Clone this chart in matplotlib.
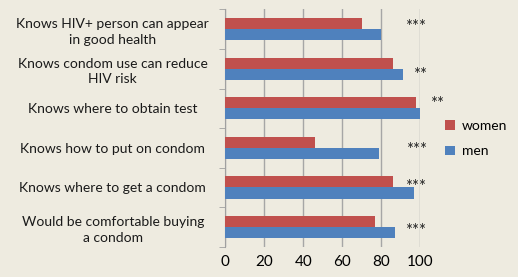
import matplotlib
matplotlib.use("Agg")
import matplotlib.pyplot as plt
import numpy as np

categories = ["Knows HIV+ person can appear\nin good health",
              "Knows condom use can reduce\nHIV risk",
              "Knows where to obtain test",
              "Knows how to put on condom",
              "Knows where to get a condom",
              "Would be comfortable buying\na condom"]
women = [70, 86, 98, 46, 86, 77]
men = [80, 91, 100, 79, 97, 87]
stars = ["***", "**", "**", "***", "***", "***"]
star_x = [97.5, 100, 108.5, 98, 97.5, 97.5]
star_dy = [-0.05, 0.15, -0.12, 0.05, 0.0, 0.1]
xticks = [0, 20, 40, 60, 80, 100]

bg = "#EEEBE0"
plt.rcParams['font.family'] = ['Lato', 'DejaVu Sans']

fig = plt.figure(figsize=(5.18, 2.77), dpi=100, facecolor=bg)
ax = fig.add_axes([0.435, 0.109, 0.811 - 0.435, 0.966 - 0.109], facecolor=bg)

n = len(categories)
y = np.arange(n)
h = 0.28
ax.barh(y - h / 2, women, height=h, color="#C0504D", label="women", zorder=3)
ax.barh(y + h / 2, men, height=h, color="#4F81BD", label="men", zorder=3)

for i in range(n):
    ax.text(star_x[i], y[i] + star_dy[i], stars[i], ha="center", va="center",
            fontsize=12, color="#222222", clip_on=False, zorder=4)

ax.set_xlim(0, 100)
ax.set_ylim(n - 0.5, -0.5)
ax.set_xticks(xticks)
ax.set_xticklabels([str(t) for t in xticks], fontsize=11)
ax.set_yticks(y)
ax.set_yticklabels(categories, fontsize=10, ha="center", linespacing=1.35,
                   color="#1a1a1a")
ax.tick_params(axis="y", length=0, pad=81)
ax.set_yticks(np.arange(n + 1) - 0.5, minor=True)
ax.tick_params(axis="y", which="minor", length=4, color="#A0A0A0")
ax.tick_params(axis="x", length=0, pad=6)
ax.xaxis.grid(True, color="#A6A6A6", linewidth=1, zorder=0)
for s in ["top", "right", "bottom"]:
    ax.spines[s].set_visible(False)
ax.spines["left"].set_color("#A0A0A0")

handles, labels = ax.get_legend_handles_labels()
fig.legend(handles, labels, loc="center left", bbox_to_anchor=(0.835, 0.5),
           frameon=False, fontsize=10, handlelength=0.7, handleheight=0.7,
           labelspacing=1.0, handletextpad=0.5)

fig.savefig("out.png", dpi=100, facecolor=bg)
